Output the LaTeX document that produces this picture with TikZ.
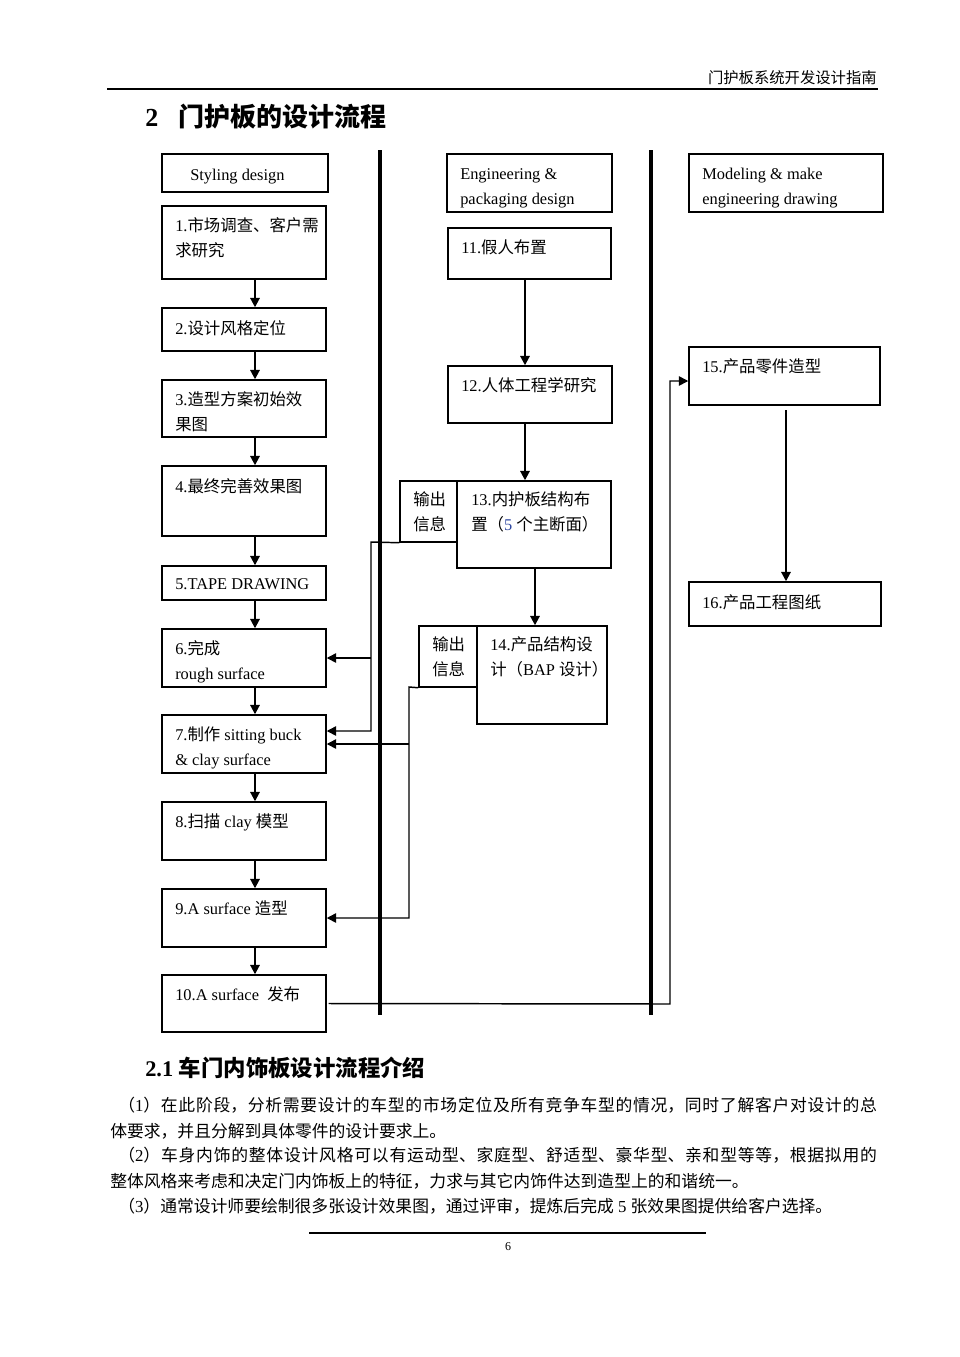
\documentclass[tikz,border=0pt]{standalone}
\usepackage{fontspec}
\setmainfont{Liberation Serif}
\newfontfamily\cjk{Noto Sans CJK SC}
\usetikzlibrary{arrows.meta,fit}
\definecolor{numblue}{RGB}{45,70,160}
\newcommand\lt[1]{{\rmfamily #1}}
\newcommand\jline[2]{\parbox[b]{#1}{\XeTeXlinebreaklocale "zh"\XeTeXlinebreakskip=0pt plus 4pt\parfillskip=0pt\noindent #2}}
\begin{document}
\begin{tikzpicture}[x=0.75pt,y=-0.75pt,
  box/.style={draw, line width=1.1pt, inner sep=0pt},
  lane/.style={line width=3pt},
  flow/.style={line width=1.5pt, -{Triangle[length=7pt,width=7pt]}},
  conn/.style={line width=1.1pt, -{Triangle[length=7pt,width=7pt]}},
  txt/.style={inner sep=0pt, font=\fontsize{12.3}{18.4}\selectfont, align=left},
  body/.style={inner sep=0pt, font=\fontsize{12.6}{18}\selectfont}]
\fill[white] (0,0) rectangle (960,1357);
\useasboundingbox (0,0) rectangle (960,1357);

% page header
\node[anchor=base east, inner sep=0pt, font=\fontsize{11.5}{14}\selectfont] (hdr) at (877,83) {\cjk 门护板系统开发设计指南};
\draw[line width=0.8pt] (107,89) -- (878,89);
\node[anchor=base west, inner sep=0pt, font=\fontsize{19.5}{22}\selectfont\bfseries] (title) at (145,126) {2\hspace{15pt}{\cjk 门护板的设计流程}};

% swim lanes
\draw[lane] (380,150) -- (380,1015);
\draw[lane] (651,150) -- (651,1015);

% column 1
\node[box, fit={(162,154)(328,192)}] (hS) {};
\node[box, fit={(162,206)(326,279)}] (b1) {};
\node[box, fit={(162,308)(326,351)}] (b2) {};
\node[box, fit={(162,380)(326,437)}] (b3) {};
\node[box, fit={(162,466)(326,536)}] (b4) {};
\node[box, fit={(162,566)(326,600)}] (b5) {};
\node[box, fit={(162,629)(326,687)}] (b6) {};
\node[box, fit={(162,715)(326,773)}] (b7) {};
\node[box, fit={(162,802)(326,860)}] (b8) {};
\node[box, fit={(162,889)(326,947)}] (b9) {};
\node[box, fit={(162,975)(326,1032)}] (b10) {};

% (base anchor of a two-line node = baseline of its last line)
\node[txt, anchor=base west] (tS) at (190,180) {Styling design};
\node[txt, anchor=base west] (t1) at (175,256.5) {1.{\cjk 市场调查、客户需}\\{\cjk 求研究}};
\node[txt, anchor=base west] (t2) at (175,334) {2.{\cjk 设计风格定位}};
\node[txt, anchor=base west] (t3) at (175,430.5) {3.{\cjk 造型方案初始效}\\{\cjk 果图}};
\node[txt, anchor=base west] (t4) at (175,492) {4.{\cjk 最终完善效果图}};
\node[txt, anchor=base west] (t5) at (175,589) {5.TAPE DRAWING};
\node[txt, anchor=base west] (t6) at (175,679.5) {6.{\cjk 完成}\\rough surface};
\node[txt, anchor=base west] (t7) at (175,765.5) {7.{\cjk 制作} sitting buck\\\& clay surface};
\node[txt, anchor=base west] (t8) at (175,827) {8.{\cjk 扫描} clay {\cjk 模型}};
\node[txt, anchor=base west] (t9) at (175,914) {9.A surface {\cjk 造型}};
\node[txt, anchor=base west] (t10) at (175,1000) {10.A surface\ \ {\cjk 发布}};

\coordinate (ax1) at (255,0);
\draw[flow] (b1.south -| ax1) -- (b2.north -| ax1);
\draw[flow] (b2.south -| ax1) -- (b3.north -| ax1);
\draw[flow] (b3.south -| ax1) -- (b4.north -| ax1);
\draw[flow] (b4.south -| ax1) -- (b5.north -| ax1);
\draw[flow] (b5.south -| ax1) -- (b6.north -| ax1);
\draw[flow] (b6.south -| ax1) -- (b7.north -| ax1);
\draw[flow] (b7.south -| ax1) -- (b8.north -| ax1);
\draw[flow] (b8.south -| ax1) -- (b9.north -| ax1);
\draw[flow] (b9.south -| ax1) -- (b10.north -| ax1);

% column 2
\node[box, fit={(447,154)(612,212)}] (hE) {};
\node[box, fit={(448,228)(611,279)}] (b11) {};
\node[box, fit={(448,366)(612,423)}] (b12) {};
\node[box, fit={(457,481)(611,568)}] (b13) {};
\node[box, fit={(400,481)(457,542)}] (o13) {};
\node[box, fit={(477,626)(607,724)}] (b14) {};
\node[box, fit={(419,626)(477,687)}] (o14) {};

\begin{scope}
\clip (hE.north west) rectangle ([yshift=4.1pt]hE.south east);
\node[txt, anchor=base west] (tE) at (460,204.5) {Engineering \&\\packaging design};
\end{scope}
\node[txt, anchor=base west] (t11) at (461,253) {11.{\cjk 假人布置}};
\node[txt, anchor=base west] (t12) at (461,391) {12.{\cjk 人体工程学研究}};
\node[txt, anchor=base west] (t13) at (471,530.5) {13.{\cjk 内护板结构布}\\{\cjk 置（}\textcolor{numblue}{5} {\cjk 个主断面）}};
\node[txt, anchor=base west] (to13) at (413,530.5) {{\cjk 输出}\\{\cjk 信息}};
\node[txt, anchor=base west] (t14) at (490,675.5) {14.{\cjk 产品结构设}\\{\cjk 计（}BAP {\cjk 设计）}};
\node[txt, anchor=base west] (to14) at (432,675.5) {{\cjk 输出}\\{\cjk 信息}};

\coordinate (ax2) at (525,0);
\coordinate (ax3) at (535,0);
\draw[flow] (b11.south -| ax2) -- (b12.north -| ax2);
\draw[flow] (b12.south -| ax2) -- (b13.north -| ax2);
\draw[flow] (b13.south -| ax3) -- (b14.north -| ax3);

% column 3
\node[box, fit={(689,154)(883,212)}] (hM) {};
\node[box, fit={(689,347)(880,405)}] (b15) {};
\node[box, fit={(689,582)(881,626)}] (b16) {};
\begin{scope}
\clip (hM.north west) rectangle ([yshift=4.1pt]hM.south east);
\node[txt, anchor=base west] (tM) at (702,204.5) {Modeling \& make\\engineering drawing};
\end{scope}
\node[txt, anchor=base west] (t15) at (702,372) {15.{\cjk 产品零件造型}};
\node[txt, anchor=base west] (t16) at (702,608) {16.{\cjk 产品工程图纸}};
\coordinate (ax4) at (786,0);
\coordinate (s15) at (786,410);
\draw[flow] (s15) -- (b16.north -| ax4);

% cross-lane connectors
\coordinate (c13) at (371,542);
\draw[conn] (o13.south west) -- (c13) |- ([yshift=9.75pt]b7.east);
\draw[conn] (c13 |- b6.east) -- (b6.east);
\coordinate (c14) at (409,687);
\draw[conn] (o14.south west) -- (c14) |- (b9.east);
\draw[conn] (c14 |- b7.east) -- (b7.east);
\coordinate (c10) at (670,1004);
\draw[conn] ([xshift=1.5pt]b10.east) -- (c10) |- ([yshift=-3.75pt]b15.west);

% section text
\node[anchor=base west, inner sep=0pt, font=\fontsize{16.8}{20}\selectfont\bfseries] (sec) at (145,1076) {2.1 {\cjk 车门内饰板设计流程介绍}};
\node[body, anchor=base west] (p1a) at (118,1111) {\jline{569pt}{{\cjk （\lt{1}）在此阶段，分析需要设计的车型的市场定位及所有竞争车型的情况，同时了解客户对设计的总}}};
\node[body, anchor=base west] (p1b) at (110,1137) {\cjk 体要求，并且分解到具体零件的设计要求上。};
\node[body, anchor=base west] (p2a) at (118,1161) {\jline{569pt}{{\cjk （\lt{2}）车身内饰的整体设计风格可以有运动型、家庭型、舒适型、豪华型、亲和型等等，根据拟用的}}};
\node[body, anchor=base west] (p2b) at (110,1187) {\cjk 整体风格来考虑和决定门内饰板上的特征，力求与其它内饰件达到造型上的和谐统一。};
\node[body, anchor=base west] (p3) at (118,1212) {{\cjk （\lt{3}）通常设计师要绘制很多张设计效果图，通过评审，提炼后完成} \lt{5} {\cjk 张效果图提供给客户选择。}};

% footer
\draw[line width=0.8pt] (309,1233) -- (706,1233);
\node[anchor=base, inner sep=0pt, font=\fontsize{9}{11}\selectfont] (pg) at (508,1250) {6};
\end{tikzpicture}
\end{document}
